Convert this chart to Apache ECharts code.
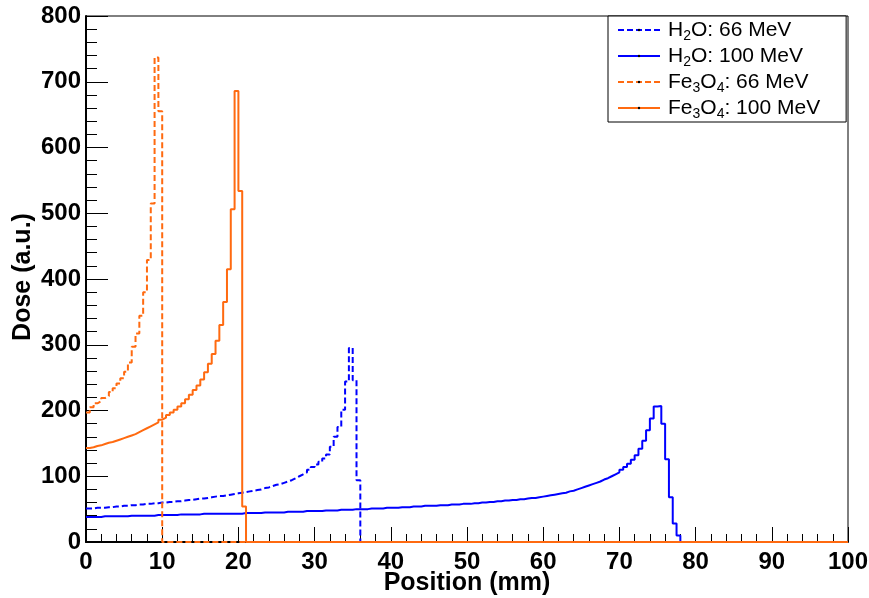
<!DOCTYPE html>
<html>
<head>
<meta charset="utf-8">
<script src="https://cdn.jsdelivr.net/npm/echarts@6/dist/echarts.min.js"></script>
<style>
  html, body { margin: 0; padding: 0; background: #fff; }
  #chart { width: 869px; height: 598px; }
</style>
</head>
<body>
<div id="chart"></div>
<script>
// Depth-dose histograms, 0.5 mm bins starting at 0 mm; bins past the listed ones are empty.
const binWidth = 0.5;
const binCount = 200;

const seriesNames = ['H2O: 66 MeV', 'H2O: 100 MeV', 'Fe3O4: 66 MeV', 'Fe3O4: 100 MeV'];

const h2o66 = [
  51, 51, 52, 52, 52, 53, 53, 54, 54, 55, 55, 56, 56, 57, 57, 58, 58, 59, 59, 60,
  60, 61, 61, 62, 62, 63, 64, 64, 65, 66, 66, 67, 68, 69, 70, 70, 71, 72, 73, 74,
  75, 76, 77, 78, 79, 80, 82, 83, 85, 87, 88, 90, 92, 94, 97, 100, 103, 106, 110, 114,
  118, 122, 127, 133, 145, 160, 175, 201, 244, 295, 246, 94
];

const h2o100 = [
  38, 38, 38, 38, 39, 39, 39, 39, 39, 39, 39, 40, 40, 40, 40, 40, 40, 40, 41, 41,
  41, 41, 41, 41, 42, 42, 42, 42, 42, 42, 43, 43, 43, 43, 43, 43, 43, 43, 43, 43,
  43, 44, 44, 44, 44, 44, 45, 45, 45, 45, 45, 45, 46, 46, 46, 46, 46, 47, 47, 47,
  47, 47, 48, 48, 48, 48, 49, 49, 49, 49, 50, 50, 50, 50, 51, 51, 51, 51, 52, 52,
  52, 52, 53, 53, 53, 54, 54, 54, 55, 55, 55, 55, 56, 56, 56, 57, 57, 57, 58, 58,
  58, 59, 59, 60, 60, 61, 61, 62, 62, 63, 63, 64, 64, 65, 65, 66, 67, 67, 68, 69,
  70, 71, 72, 73, 74, 75, 77, 78, 80, 82,
  84, 86, 88, 90, 92, 95, 97, 100, 103, 106,
  110, 114, 119, 125, 132, 142, 154, 170, 188, 206,
  207, 180, 126, 68, 28, 10
];

const fe3o4_66 = [
  197, 205, 211, 214, 219, 222, 228, 234, 241, 249,
  259, 273, 297, 317, 344, 380, 429, 515, 737, 655
];

const fe3o4_100 = [
  143, 144, 146, 147, 149, 151, 152, 154, 156, 158,
  160, 162, 164, 167, 170, 173, 176, 179, 182, 186,
  189, 193, 197, 201, 206, 211, 217, 224, 231, 238,
  247, 258, 271, 286, 306, 330, 365, 415, 506, 686,
  534, 54
];

const xRange = [0, 100, 10];
const yRange = [0, 800, 100];

const BLUE = '#0000ff';
const ORANGE = '#ff6a10';
const FONT = '"Liberation Sans", Arial, Helvetica, sans-serif';

// Histogram outline: one point at each bin's lower edge, plus the closing upper edge.
function histogram(values) {
  const pts = [];
  for (let i = 0; i < binCount; i++) {
    pts.push([i * binWidth, i < values.length ? values[i] : 0]);
  }
  pts.push([binCount * binWidth, 0]);
  return pts;
}

function histSeries(name, values, color, dashed) {
  return {
    name: name,
    type: 'line',
    step: 'end',
    data: histogram(values),
    symbol: 'none',
    clip: false,
    color: color,
    lineStyle: { color: color, width: 2, type: dashed ? [6, 3] : 'solid' },
    emphasis: { disabled: true }
  };
}

// Chemical formulas in the legend get subscripted digits.
function formula(name) {
  return name.replace(/([A-Za-z])(\d)/g, '$1{s|$2}');
}

const chart = echarts.init(document.getElementById('chart'), null, { renderer: 'canvas' });

chart.setOption({
  animation: false,
  backgroundColor: '#fff',
  grid: {
    left: 86, right: 21, top: 16, bottom: 56,
    outerBoundsMode: 'none',
    containLabel: false,
    show: true, borderColor: '#000', borderWidth: 1, backgroundColor: 'transparent'
  },
  legend: {
    orient: 'vertical',
    left: 608, top: 16,
    data: seriesNames,
    selectedMode: false,
    itemWidth: 42, itemHeight: 3, itemGap: 0,
    padding: [1, 26, 1, 9],
    borderColor: '#000', borderWidth: 1,
    backgroundColor: '#fff',
    itemStyle: { color: '#000', borderWidth: 0 },
    formatter: formula,
    textStyle: {
      fontFamily: FONT, fontSize: 21, color: '#000', lineHeight: 26,
      padding: [0, 0, 0, 3],
      rich: {
        s: { fontFamily: FONT, fontSize: 14, color: '#000', lineHeight: 8, verticalAlign: 'bottom' }
      }
    }
  },
  xAxis: {
    type: 'value',
    min: xRange[0], max: xRange[1], interval: xRange[2],
    name: 'Position (mm)',
    nameLocation: 'middle',
    nameGap: 29,
    nameMoveOverlap: false,
    nameTextStyle: { fontFamily: FONT, fontWeight: 'bold', fontSize: 25, color: '#000', lineHeight: 25 },
    axisLine: { show: true, onZero: false, lineStyle: { color: '#000', width: 2 } },
    axisTick: { show: true, inside: true, length: 15, lineStyle: { color: '#000', width: 1 } },
    minorTick: { show: true, splitNumber: 5, length: 8, lineStyle: { color: '#000', width: 1 } },
    splitLine: { show: false },
    minorSplitLine: { show: false },
    axisLabel: { margin: 8, fontFamily: FONT, fontWeight: 'bold', fontSize: 24, color: '#000' }
  },
  yAxis: {
    type: 'value',
    min: yRange[0], max: yRange[1], interval: yRange[2],
    name: 'Dose (a.u.)',
    nameLocation: 'middle',
    nameRotate: 90,
    nameGap: 50,
    nameMoveOverlap: false,
    nameTextStyle: { fontFamily: FONT, fontWeight: 'bold', fontSize: 25, color: '#000', lineHeight: 26, padding: [0, 0, 0, 4] },
    axisLine: { show: true, onZero: false, lineStyle: { color: '#000', width: 2 } },
    axisTick: { show: true, inside: true, length: 22, lineStyle: { color: '#000', width: 1 } },
    minorTick: { show: true, splitNumber: 5, length: 11, lineStyle: { color: '#000', width: 1 } },
    splitLine: { show: false },
    minorSplitLine: { show: false },
    axisLabel: { margin: 5, fontFamily: FONT, fontWeight: 'bold', fontSize: 24, color: '#000', padding: [3, 0, 0, 0] }
  },
  series: [
    histSeries(seriesNames[0], h2o66, BLUE, true),
    histSeries(seriesNames[1], h2o100, BLUE, false),
    histSeries(seriesNames[2], fe3o4_66, ORANGE, true),
    histSeries(seriesNames[3], fe3o4_100, ORANGE, false)
  ]
});
</script>
</body>
</html>
